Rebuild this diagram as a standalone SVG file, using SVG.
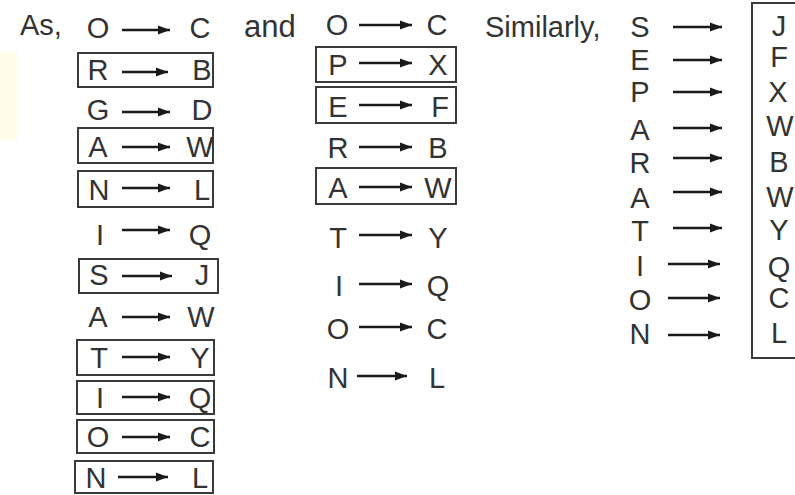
<svg xmlns="http://www.w3.org/2000/svg" width="795" height="495" viewBox="0 0 795 495">
<style>
text{font-family:"Liberation Sans",Arial,sans-serif;font-size:29px;fill:#333;}
.m{text-anchor:middle;}
.lbl{font-size:29px;}
.box{fill:none;stroke:#3a3a3a;stroke-width:2;}
.arr{stroke:#1a1a1a;stroke-width:2.6;fill:none;marker-end:url(#ah);}
</style>
<defs>
<marker id="ah" markerUnits="userSpaceOnUse" markerWidth="13" markerHeight="10" refX="12" refY="5" orient="auto">
<path d="M0,0.5 L12,5 L0,9.5 z" fill="#1a1a1a"/>
</marker>
</defs>
<rect x="0" y="52" width="18" height="88" fill="#fffde9"/>
<g id="labels">
<text class="lbl" x="20" y="35">As,</text>
<text class="lbl" x="244" y="37" style="font-size:31px">and</text>
<text class="lbl" x="485" y="37">Similarly,</text>
</g>
<g id="col1">
<g id="c1r1"><text class="m" x="98" y="38">O</text><text class="m" x="200" y="38">C</text></g>
<g id="c1r2"><rect class="box" x="78" y="53" width="135" height="34"/><text class="m" x="98" y="80">R</text><text class="m" x="202" y="80">B</text></g>
<g id="c1r3"><text class="m" x="98" y="120">G</text><text class="m" x="202" y="120">D</text></g>
<g id="c1r4"><rect class="box" x="78" y="128" width="135" height="35"/><text class="m" x="98" y="157">A</text><text class="m" x="200" y="157">W</text></g>
<g id="c1r5"><rect class="box" x="78" y="171" width="135" height="36"/><text class="m" x="99" y="200">N</text><text class="m" x="202" y="200">L</text></g>
<g id="c1r6"><text class="m" x="100" y="245">I</text><text class="m" x="200" y="245">Q</text></g>
<g id="c1r7"><rect class="box" x="79" y="259" width="139" height="34"/><text class="m" x="99" y="285">S</text><text class="m" x="202" y="285">J</text></g>
<g id="c1r8"><text class="m" x="98" y="327">A</text><text class="m" x="201" y="327">W</text></g>
<g id="c1r9"><rect class="box" x="77" y="340" width="137" height="35"/><text class="m" x="99" y="368">T</text><text class="m" x="200" y="368">Y</text></g>
<g id="c1r10"><rect class="box" x="77" y="381" width="137" height="33"/><text class="m" x="100" y="408">I</text><text class="m" x="200" y="408">Q</text></g>
<g id="c1r11"><rect class="box" x="77" y="420" width="137" height="33"/><text class="m" x="98" y="447">O</text><text class="m" x="200" y="447">C</text></g>
<g id="c1r12"><rect class="box" x="75" y="461" width="138" height="32"/><text class="m" x="96" y="488">N</text><text class="m" x="200" y="488">L</text></g>
</g>
<g id="col2">
<g id="c2r1"><text class="m" x="337" y="35">O</text><text class="m" x="437" y="35">C</text></g>
<g id="c2r2"><rect class="box" x="316" y="47" width="140" height="35"/><text class="m" x="338" y="75">P</text><text class="m" x="438" y="75">X</text></g>
<g id="c2r3"><rect class="box" x="316" y="87" width="140" height="36"/><text class="m" x="338" y="117">E</text><text class="m" x="440" y="117">F</text></g>
<g id="c2r4"><text class="m" x="338" y="158">R</text><text class="m" x="438" y="158">B</text></g>
<g id="c2r5"><rect class="box" x="316" y="168" width="140" height="36"/><text class="m" x="338" y="198">A</text><text class="m" x="438" y="198">W</text></g>
<g id="c2r6"><text class="m" x="338" y="248">T</text><text class="m" x="438" y="248">Y</text></g>
<g id="c2r7"><text class="m" x="339" y="296">I</text><text class="m" x="438" y="296">Q</text></g>
<g id="c2r8"><text class="m" x="338" y="339">O</text><text class="m" x="437" y="339">C</text></g>
<g id="c2r9"><text class="m" x="338" y="388">N</text><text class="m" x="437" y="388">L</text></g>
</g>
<g id="col3">
<g id="c3left">
<text class="m" x="640" y="37">S</text>
<text class="m" x="640" y="70">E</text>
<text class="m" x="640" y="102">P</text>
<text class="m" x="640" y="140">A</text>
<text class="m" x="640" y="173">R</text>
<text class="m" x="640" y="208">A</text>
<text class="m" x="640" y="241">T</text>
<text class="m" x="640" y="276">I</text>
<text class="m" x="640" y="310">O</text>
<text class="m" x="640" y="344">N</text>
</g>
<g id="c3right">
<rect class="box" x="752" y="3" width="60" height="355"/>
<text class="m" x="779" y="36">J</text>
<text class="m" x="779" y="67">F</text>
<text class="m" x="778" y="102">X</text>
<text class="m" x="780" y="136">W</text>
<text class="m" x="779" y="172">B</text>
<text class="m" x="780" y="207">W</text>
<text class="m" x="779" y="240">Y</text>
<text class="m" x="779" y="277">Q</text>
<text class="m" x="779" y="308">C</text>
<text class="m" x="779" y="343">L</text>
</g>
</g>
<g id="connectors">
<path class="arr" d="M122,30H170"/>
<path class="arr" d="M122,72H168"/>
<path class="arr" d="M122,112H170"/>
<path class="arr" d="M122,147H170"/>
<path class="arr" d="M122,188H170"/>
<path class="arr" d="M122,230H170"/>
<path class="arr" d="M122,276H172"/>
<path class="arr" d="M122,317H170"/>
<path class="arr" d="M122,357H170"/>
<path class="arr" d="M122,397H170"/>
<path class="arr" d="M122,437H170"/>
<path class="arr" d="M118,477H168"/>
<path class="arr" d="M359,25H412"/>
<path class="arr" d="M359,63H412"/>
<path class="arr" d="M359,105H412"/>
<path class="arr" d="M359,147H412"/>
<path class="arr" d="M359,187H412"/>
<path class="arr" d="M359,235H412"/>
<path class="arr" d="M359,284H412"/>
<path class="arr" d="M359,327H412"/>
<path class="arr" d="M357,376H407"/>
<path class="arr" d="M673,27H722"/>
<path class="arr" d="M673,60H722"/>
<path class="arr" d="M673,92H722"/>
<path class="arr" d="M673,128H722"/>
<path class="arr" d="M673,158H722"/>
<path class="arr" d="M673,192H722"/>
<path class="arr" d="M673,228H722"/>
<path class="arr" d="M668,264H720"/>
<path class="arr" d="M668,298H720"/>
<path class="arr" d="M668,335H720"/>
</g>
</svg>
